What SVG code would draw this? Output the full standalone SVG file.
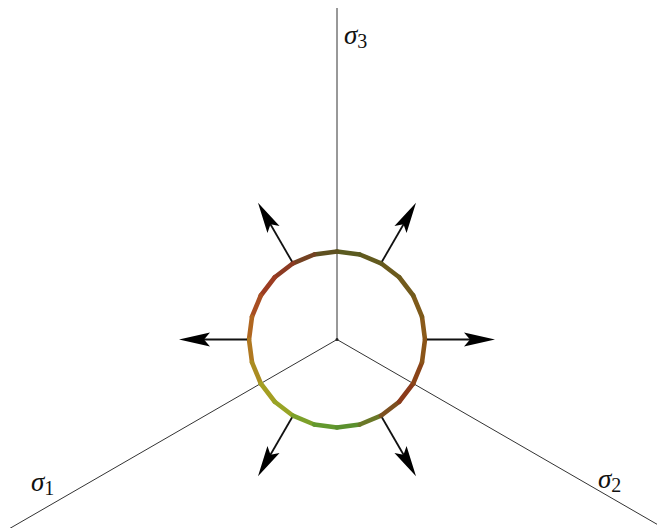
<svg xmlns="http://www.w3.org/2000/svg" width="657" height="528" viewBox="0 0 657 528">
<style>
.axis{stroke:#333;stroke-width:1;fill:none}
.seg{stroke-width:4.6;stroke-linecap:round;fill:none}
.ashaft{stroke:#111;stroke-width:1.8}
.ahead{fill:#000}
.lab{font-family:"Liberation Serif","DejaVu Serif",serif;font-style:italic;font-size:27px;fill:#111}
.sub{font-family:"Liberation Serif","DejaVu Serif",serif;font-style:normal;font-size:20px}
</style>
<defs>
<g id="arrow">
<line class="ashaft" x1="90" y1="0" x2="134" y2="0"/>
<polygon class="ahead" points="158,0 127,-7 133,0 127,7"/>
</g>
</defs>
<rect width="657" height="528" fill="#fff"/>
<g id="connectors">
<line class="axis" x1="337" y1="339.5" x2="337" y2="8"/>
<line class="axis" x1="337" y1="339.5" x2="10" y2="528.3"/>
<line class="axis" x1="337" y1="339.5" x2="664" y2="528.3"/>
<circle cx="337" cy="339.5" r="1.5" fill="#222"/>
</g>
<g id="ring">
<line class="seg" stroke="#8a5a1a" x1="425" y1="339.5" x2="422" y2="316.72"/>
<line class="seg" stroke="#7e5a1a" x1="422" y1="316.72" x2="413.21" y2="295.5"/>
<line class="seg" stroke="#725a1c" x1="413.21" y1="295.5" x2="399.23" y2="277.27"/>
<line class="seg" stroke="#6a5a1c" x1="399.23" y1="277.27" x2="381" y2="263.29"/>
<line class="seg" stroke="#625a1e" x1="381" y1="263.29" x2="359.78" y2="254.5"/>
<line class="seg" stroke="#5a5a20" x1="359.78" y1="254.5" x2="337" y2="251.5"/>
<line class="seg" stroke="#5e5020" x1="337" y1="251.5" x2="314.22" y2="254.5"/>
<line class="seg" stroke="#744222" x1="314.22" y1="254.5" x2="293" y2="263.29"/>
<line class="seg" stroke="#8c3a22" x1="293" y1="263.29" x2="274.77" y2="277.27"/>
<line class="seg" stroke="#9c3c22" x1="274.77" y1="277.27" x2="260.79" y2="295.5"/>
<line class="seg" stroke="#a84e22" x1="260.79" y1="295.5" x2="252" y2="316.72"/>
<line class="seg" stroke="#b06620" x1="252" y1="316.72" x2="249" y2="339.5"/>
<line class="seg" stroke="#b07820" x1="249" y1="339.5" x2="252" y2="362.28"/>
<line class="seg" stroke="#aa8c20" x1="252" y1="362.28" x2="260.79" y2="383.5"/>
<line class="seg" stroke="#a49e22" x1="260.79" y1="383.5" x2="274.77" y2="401.73"/>
<line class="seg" stroke="#98a426" x1="274.77" y1="401.73" x2="293" y2="415.71"/>
<line class="seg" stroke="#7ca02a" x1="293" y1="415.71" x2="314.22" y2="424.5"/>
<line class="seg" stroke="#62982e" x1="314.22" y1="424.5" x2="337" y2="427.5"/>
<line class="seg" stroke="#5a902e" x1="337" y1="427.5" x2="359.78" y2="424.5"/>
<line class="seg" stroke="#6a7828" x1="359.78" y1="424.5" x2="381" y2="415.71"/>
<line class="seg" stroke="#7c5020" x1="381" y1="415.71" x2="399.23" y2="401.73"/>
<line class="seg" stroke="#8a3a1a" x1="399.23" y1="401.73" x2="413.21" y2="383.5"/>
<line class="seg" stroke="#8a4418" x1="413.21" y1="383.5" x2="422" y2="362.28"/>
<line class="seg" stroke="#8a5418" x1="422" y1="362.28" x2="425" y2="339.5"/>
</g>
<g id="arrows">
<use href="#arrow" transform="translate(337,339.5)"/>
<use href="#arrow" transform="translate(337,339.5) rotate(-60)"/>
<use href="#arrow" transform="translate(337,339.5) rotate(-120)"/>
<use href="#arrow" transform="translate(337,339.5) rotate(180)"/>
<use href="#arrow" transform="translate(337,339.5) rotate(120)"/>
<use href="#arrow" transform="translate(337,339.5) rotate(60)"/>
</g>
<g id="label-s3"><text class="lab" x="344" y="44">σ<tspan class="sub" dy="4">3</tspan></text></g>
<g id="label-s1"><text class="lab" x="31" y="491">σ<tspan class="sub" dy="4">1</tspan></text></g>
<g id="label-s2"><text class="lab" x="598" y="488">σ<tspan class="sub" dy="4">2</tspan></text></g>
</svg>
